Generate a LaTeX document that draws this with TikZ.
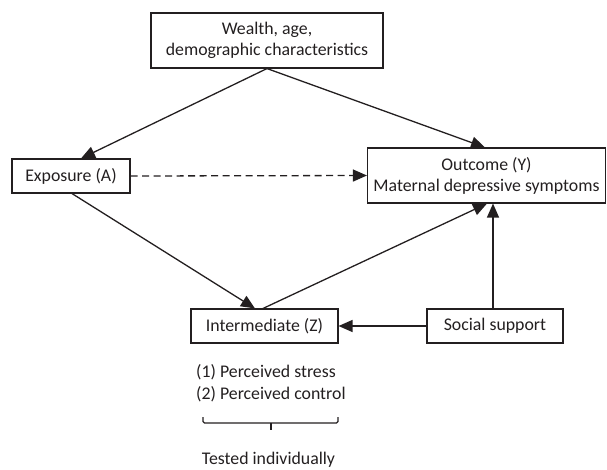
\documentclass[tikz,border=0pt]{standalone}
\usepackage{fontspec}
\setmainfont{Carlito}
\usetikzlibrary{arrows.meta}
\definecolor{ink}{RGB}{35,31,32}
\begin{document}
\begin{tikzpicture}[x=1pt,y=-1pt,
  box/.style={draw=ink,line width=1.1pt,rectangle,inner sep=0pt,align=center,text=ink,
    font=\fontsize{17.8}{21}\selectfont},
  conn/.style={draw=ink,line width=1.3pt,-{Triangle[length=14pt,width=12pt]}},
  lbl/.style={text=ink,font=\fontsize{17.8}{22}\selectfont,inner sep=0pt}]
\useasboundingbox (0,0) rectangle (607,469);
\node[box,minimum width=232pt,minimum height=55pt] (top) at (267,40.5) {Wealth, age,\\demographic characteristics};
\node[box,minimum width=118pt,minimum height=34pt] (exp) at (71,176) {Exposure (A)};
\node[box,minimum width=238pt,minimum height=55pt] (out) at (486.5,175.5) {Outcome (Y)\\Maternal depressive symptoms};
\node[box,minimum width=147pt,minimum height=34pt] (inter) at (264.5,326) {Intermediate (Z)};
\node[box,minimum width=136pt,minimum height=34pt] (soc) at (495,326) {Social support};
\node[lbl,anchor=base west,align=left] (list) at (196,399) {(1) Perceived stress\\(2) Perceived control};
\node[lbl,anchor=base] (tested) at (268.5,464) {Tested individually};
\coordinate (bl) at (203,417);
\coordinate (br) at (338,417);
\coordinate (bb) at (271,423);
\coordinate (bm) at (271,430);
\draw[draw=ink,line width=1.1pt,rounded corners=1.5pt] (bl) -- (bl |- bb) -- (br |- bb) -- (br);
\draw[draw=ink,line width=1.1pt] (bb) -- (bm);
\draw[conn] (top.south) -- ([xshift=10pt]exp.north);
\draw[conn] (top.south) -- ([xshift=-1.5pt]out.north);
\draw[conn,dash pattern=on 7pt off 4.5pt] (exp.east) -- (out.west);
\draw[conn] ([xshift=1pt]exp.south) -- ([xshift=-9.5pt]inter.north);
\draw[conn] ([xshift=-1.5pt]inter.north) -- ([xshift=0.5pt]out.south);
\draw[conn] ([xshift=-2pt]soc.north) -- ([xshift=-2pt]soc.north |- out.south);
\draw[conn] (soc.west) -- (inter.east);
\end{tikzpicture}
\end{document}
